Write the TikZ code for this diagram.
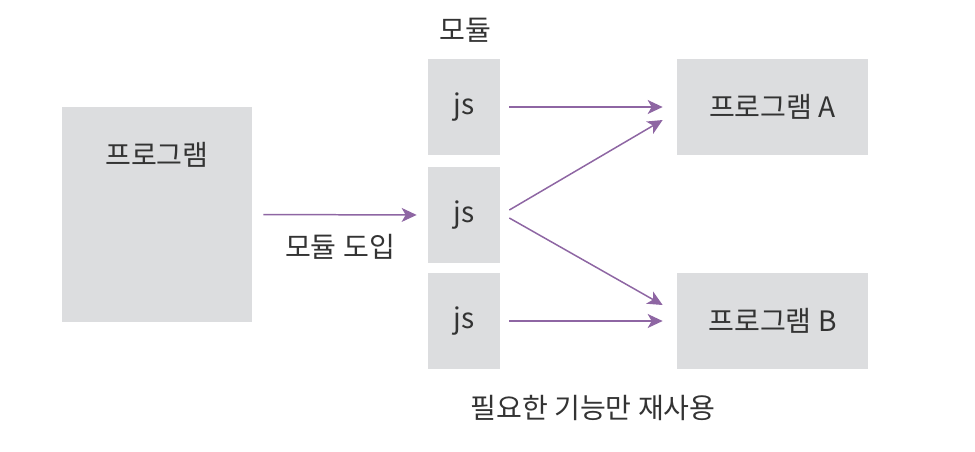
\documentclass[tikz,border=0pt]{standalone}
\usepackage{fontspec}
\setmainfont{Noto Sans CJK KR}
\usepackage{xcolor}
\usetikzlibrary{arrows.meta}

\definecolor{boxgray}{HTML}{DCDDDF}
\definecolor{pfeil}{HTML}{8E66A3}
\definecolor{schrift}{HTML}{333333}

\begin{document}
\begin{tikzpicture}[x=0.02cm,y=-0.02cm,
  box/.style={fill=boxgray,draw=none,inner sep=0pt,text=schrift,font=\fontsize{16}{18}\selectfont},
  jsbox/.style={box,minimum width=1.44cm,minimum height=1.92cm},
  progbox/.style={box,minimum width=3.82cm,minimum height=1.92cm},
  txt/.style={text=schrift,font=\fontsize{16}{18}\selectfont,inner sep=0pt},
  pf/.style={pfeil,line width=0.85pt,-{Stealth[length=0.3cm,width=0.28cm,inset=0.08cm]}}]

\useasboundingbox (0,0) rectangle (975,451);								% Rahmen

\node[box,minimum width=3.8cm,minimum height=4.3cm] (prog) at (157,214.5) {};	% Programm links
\node[txt] (progtxt) at (157,155) {프로그램};

\node[jsbox] (js1) at (464,107) {js};									% Module
\node[jsbox] (js2) at (464,215) {js};
\node[jsbox] (js3) at (464,321) {js};
\node[txt] (modul) at (465,30) {모듈};

\node[progbox] (progA) at (772.5,107) {프로그램 A};						% Programm A
\node[progbox] (progB) at (772.5,321) {프로그램 B};						% Programm B

\draw[pf,shorten <=0.22cm,shorten >=0.22cm] (prog.east) -- (js2.west)		% Modul einbinden
  node[txt,midway,below=0.38cm] (einb) {모듈 도입};

\draw[pf,shorten <=0.18cm,shorten >=0.28cm] (js1.east) -- (progA.west);	% oben
\draw[pf] ([xshift=0.18cm,yshift=0.1cm]js2.east) -- ([xshift=-0.28cm,yshift=-0.26cm]progA.west);	% Mitte nach A
\draw[pf] ([xshift=0.18cm,yshift=-0.06cm]js2.east) -- ([xshift=-0.28cm,yshift=0.32cm]progB.west);	% Mitte nach B
\draw[pf,shorten <=0.18cm,shorten >=0.28cm] (js3.east) -- (progB.west);	% unten

\node[txt] (reuse) at (593,408) {필요한 기능만 재사용};

\end{tikzpicture}
\end{document}
